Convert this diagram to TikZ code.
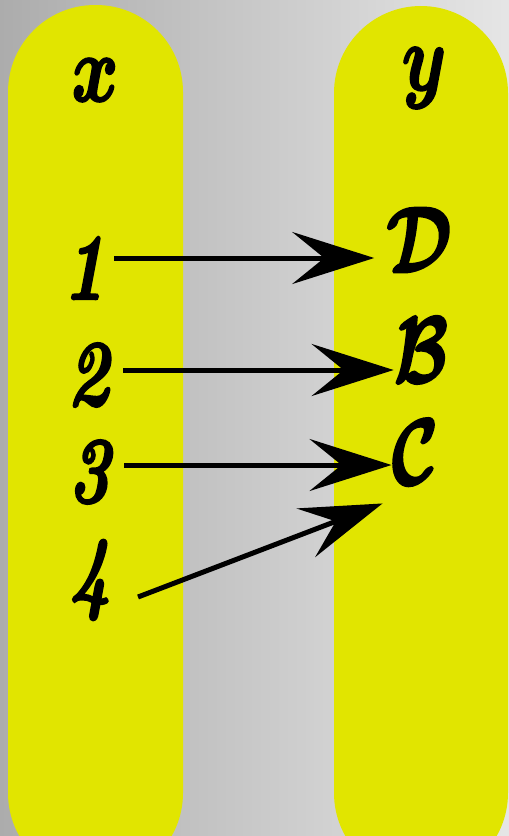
\RequirePackage{fix-cm}
\documentclass[tikz,border=0pt]{standalone}
\usetikzlibrary{arrows.meta}
\definecolor{pillyellow}{HTML}{E1E500}
\newcommand{\narrow}[1]{\scalebox{0.75}[1]{#1}}
\newcommand{\heavy}[1]{\special{pdf:literal direct 2 Tr 2.4 w}#1\special{pdf:literal direct 0 Tr}}
\begin{document}
\begin{tikzpicture}[x=1pt, y=-1pt,
    pill/.style={fill=pillyellow, rounded corners=87pt},
    lbl/.style={inner sep=0pt, font=\fontsize{94}{94}\selectfont\bfseries\itshape},
    ptr/.style={-{Stealth[length=82pt, width=52pt, inset=32pt]}, line width=5pt}
]
% Background
\useasboundingbox (0,0) rectangle (509,836);
\clip (0,0) rectangle (509,836);
\shade[left color=gray!65, right color=gray!20] (0,0) rectangle (509,836);

% Pills
\fill[pill] (8,5) rectangle (183,880);
\fill[pill] (334,6) rectangle (508,880);

% Headers
\node[lbl] (x) at (95,80) {\narrow{\heavy{\boldmath$x$}}};
\node[lbl] (y) at (424,78) {\narrow{\heavy{\boldmath$y$}}};

% Domain
\node[lbl] (n1) at (84,268) {\narrow{\heavy{1}}};
\node[lbl] (n2) at (88,375) {\narrow{\heavy{2}}};
\node[lbl] (n3) at (89,472) {\narrow{\heavy{3}}};
\node[lbl] (n4) at (90,580) {\narrow{\heavy{4}}};

% Range
\node[lbl] (lD) at (419,240) {\narrow{\heavy{\boldmath$\mathcal{D}$}}};
\node[lbl] (lB) at (421,350) {\narrow{\heavy{\boldmath$\mathcal{B}$}}};
\node[lbl] (lC) at (415,452) {\narrow{\heavy{\boldmath$\mathcal{C}$}}};

% Arrows
\draw[ptr] ([xshift=9pt, yshift=10pt]n1.east) -- ([xshift=-12pt, yshift=10pt]n1.east -| lD.west);
\draw[ptr] ([xshift=14pt, yshift=5pt]n2.east) -- ([xshift=0pt, yshift=5pt]n2.east -| lB.west);
\draw[ptr] ([xshift=14pt, yshift=7pt]n3.east) -- ([xshift=0pt, yshift=7pt]n3.east -| lC.west);
\draw[ptr] ([xshift=27pt, yshift=-17pt]n4.east) -- ([xshift=-9pt, yshift=-19pt]lC.south west);
\end{tikzpicture}
\end{document}
